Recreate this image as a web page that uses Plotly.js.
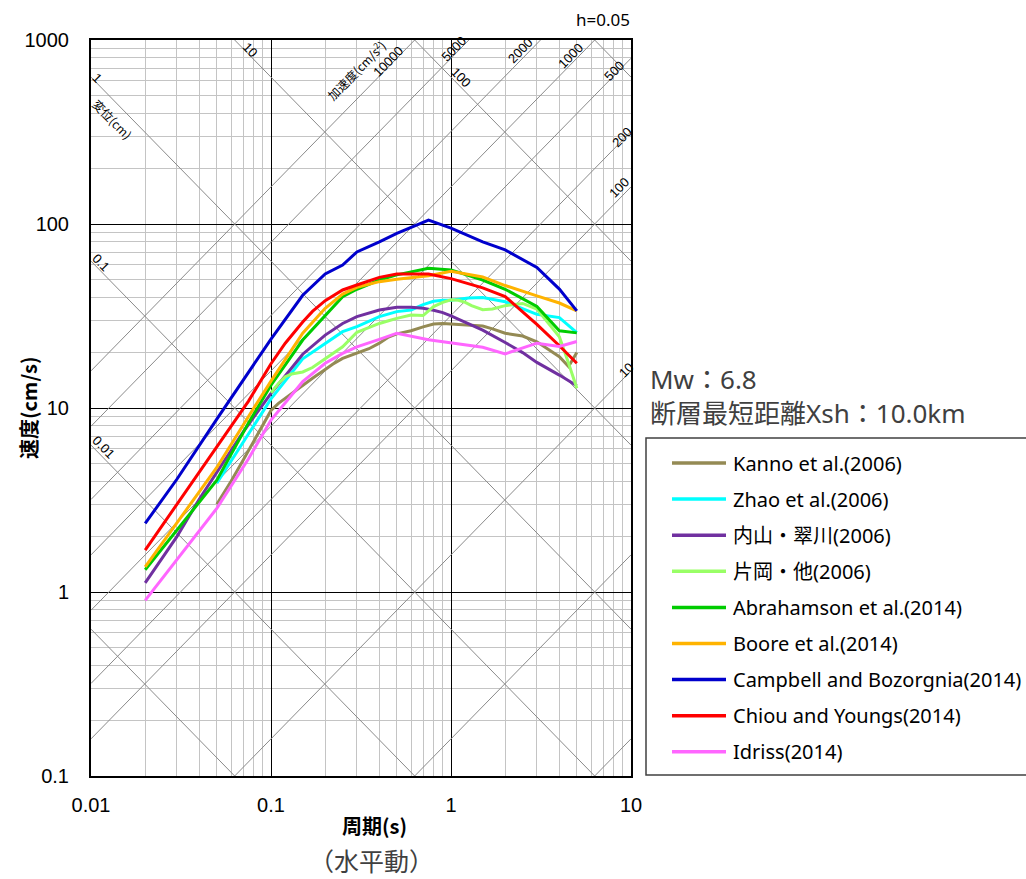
<!DOCTYPE html>
<html><head><meta charset="utf-8">
<script src="https://cdn.plot.ly/plotly-3.0.1.min.js"></script>
<style>html,body{margin:0;padding:0;background:#fff}</style>
</head><body>
<div id="chart" style="width:1026px;height:879px"></div>
<script>
// ---- data (period s, pseudo velocity cm/s) ----
const seriesNames = ["Kanno et al.(2006)","Zhao et al.(2006)","内山・翠川(2006)","片岡・他(2006)","Abrahamson et al.(2014)","Boore et al.(2014)","Campbell and Bozorgnia(2014)","Chiou and Youngs(2014)","Idriss(2014)"];
const seriesColors = ["#948A54","#00FFFF","#7030A0","#99FF66","#00CC00","#FFB300","#0000CC","#FF0000","#FF66FF"];

const kannoT = [0.05,0.06,0.07,0.08,0.09,0.1,0.11,0.12,0.13,0.15,0.17,0.2,0.22,0.25,0.3,0.35,0.4,0.45,0.5,0.6,0.7,0.8,0.9,1,1.1,1.2,1.3,1.5,1.7,2,2.2,2.5,3,3.5,4,4.5,5];
const kannoV = [3.0,4.0,5.2,6.6,8.1,9.7,10.6,11.3,12.0,13.3,14.5,16.2,17.3,18.6,19.8,21.0,22.5,24.3,25.3,26.3,27.6,28.6,28.8,28.6,28.5,28.4,28.2,27.9,26.9,25.5,25.1,24.6,22.9,20.7,19.0,16.8,20.0];

const zhaoT = [0.05,0.1,0.15,0.2,0.25,0.3,0.4,0.5,0.6,0.7,0.8,0.9,1,1.25,1.5,2,2.5,3,4,5];
const zhaoV = [3.9,11.2,18.5,22.5,26.0,27.7,31.4,33.4,34.1,36.5,38.0,38.5,38.5,39.6,39.8,37.8,34.8,32.3,31.0,25.7];

const uchiyamaT = [0.02,0.03,0.04,0.05,0.06,0.07,0.08,0.09,0.1,0.15,0.2,0.25,0.3,0.4,0.5,0.6,0.7,0.8,0.9,1,1.5,2,2.5,3,4,5];
const uchiyamaV = [1.12,2.0,3.2,4.5,5.9,7.4,8.9,10.5,12.0,19.6,24.9,28.8,31.4,34.1,35.3,35.3,34.8,34.0,33.0,31.7,26.5,22.7,20.0,17.7,15.1,13.2];

const kataokaT = [0.1,0.11,0.12,0.13,0.15,0.17,0.2,0.22,0.25,0.3,0.35,0.4,0.45,0.5,0.6,0.7,0.8,0.9,1,1.1,1.2,1.3,1.5,1.7,2,2.2,2.5,3,3.5,4,4.5,5];
const kataokaV = [12.1,13.6,14.8,15.3,15.7,16.6,18.5,19.8,21.5,25.8,27.5,28.8,29.8,30.7,32.0,31.8,35.6,37.5,38.7,38.5,37.5,36.0,34.2,34.5,36.0,36.5,37.0,34.5,28.8,24.4,17.5,12.8];

const abrahamsonT = [0.02,0.03,0.05,0.075,0.1,0.15,0.2,0.25,0.3,0.4,0.5,0.75,1,1.5,2,3,4,5];
const abrahamsonV = [1.32,2.17,4.05,8.3,13.3,23.4,32.0,40.3,44.2,49.6,52.9,57.4,56.3,49.6,44.2,35.6,26.3,25.6];

const booreT = [0.02,0.03,0.04,0.05,0.075,0.1,0.15,0.2,0.25,0.3,0.4,0.5,0.75,1,1.5,2,3,4,5];
const booreV = [1.37,2.38,3.5,4.75,9.0,14.0,25.5,34.8,41.6,45.3,48.6,50.1,52.3,55.3,51.5,46.3,40.7,37.2,33.7];

const campbellT = [0.02,0.03,0.05,0.075,0.1,0.15,0.2,0.25,0.3,0.4,0.5,0.75,1,1.5,2,3,4,5];
const campbellV = [2.36,4.1,8.7,15.6,23.7,41.0,53.5,59.8,70.5,80.0,89.0,105.0,95.0,80.0,72.3,58.0,44.3,33.7];

const chiouT = [0.02,0.03,0.04,0.05,0.075,0.1,0.12,0.15,0.17,0.2,0.25,0.3,0.4,0.5,0.75,1,1.5,2,3,4,5];
const chiouV = [1.69,3.0,4.5,6.1,10.9,17.4,22.5,29.3,33.5,38.3,43.8,46.6,51.3,53.5,53.5,50.5,45.0,40.3,28.5,21.8,17.5];

const idrissT = [0.02,0.03,0.05,0.075,0.1,0.15,0.2,0.25,0.3,0.4,0.5,0.75,1,1.5,2,3,4,5];
const idrissV = [0.90,1.5,2.85,5.3,8.6,13.9,17.5,19.8,21.5,23.6,25.5,23.5,22.6,21.4,19.7,22.5,21.6,23.0];

// tripartite guide lines
const dispValues = [0.001,0.01,0.1,1,10,100,1000];        // cm
const accValues  = [0.1,1,10,100,200,500,1000,2000,5000,10000]; // cm/s2

// tick labels
const xTickVals = [0.01,0.1,1,10];
const xTickText = ["0.01","0.1","1","10"];
const yTickVals = [0.1,1,10,100,1000];
const yTickText = ["0.1","1","10","100","1000"];

// ---- build ----
const TW = 2*Math.PI;
const tEnds = [0.01, 10];
const traces = [];
dispValues.forEach(D => traces.push({x:tEnds, y:tEnds.map(t=>TW*D/t), mode:'lines', line:{color:'#8a8a8a', width:1}, hoverinfo:'skip', showlegend:false}));
accValues.forEach(A => traces.push({x:tEnds, y:tEnds.map(t=>A*t/TW), mode:'lines', line:{color:'#8a8a8a', width:1}, hoverinfo:'skip', showlegend:false}));

const seriesT = [kannoT,zhaoT,uchiyamaT,kataokaT,abrahamsonT,booreT,campbellT,chiouT,idrissT];
const seriesV = [kannoV,zhaoV,uchiyamaV,kataokaV,abrahamsonV,booreV,campbellV,chiouV,idrissV];
seriesNames.forEach((n,i)=>traces.push({x:seriesT[i], y:seriesV[i], name:n, mode:'lines', line:{color:seriesColors[i], width:3}, showlegend:false}));

const minorVals = (lo,hi)=>{const a=[];for(let e=lo;e<hi;e++)for(let k=2;k<=9;k++)a.push(k*Math.pow(10,e));return a;};

const annotations = [];
const lblFont = {family:'Liberation Sans, Arial, sans-serif', size:13, color:'#000'};
const cjkLbl = {family:'Noto Sans CJK JP, sans-serif', size:12, color:'#000'};
function dispLabel(text, D, T, ys, f){ const sv=TW*D/T; annotations.push({x:Math.log10(T), y:Math.log10(sv), xref:'x', yref:'y', xanchor:'center', yanchor:'middle', text:text, showarrow:false, textangle:45.6, yshift:ys, font:f||lblFont}); }
function accLabel(text, A, T, ys, f){ const sv=A*T/TW; annotations.push({x:Math.log10(T), y:Math.log10(sv), xref:'x', yref:'y', xanchor:'center', yanchor:'middle', text:text, showarrow:false, textangle:-45.6, yshift:ys, font:f||lblFont}); }
dispLabel('1', 1, 0.0108, 6);
dispLabel('変位(cm)', 1, 0.0131, -20, cjkLbl);
dispLabel('0.1', 0.1, 0.01137, 9);
dispLabel('0.01', 0.01, 0.0118, 11);
dispLabel('10', 10, 0.0764, 6);
dispLabel('100', 100, 1.14, 10);
accLabel('10000', 10000, 0.447, 6);
accLabel('加速度(cm/s<sup>2</sup>)', 10000, 0.2952, 30, cjkLbl);
accLabel('5000', 5000, 1.039, 7);
accLabel('2000', 2000, 2.427, 10);
accLabel('1000', 1000, 4.63, 9);
accLabel('500', 500, 8.087, 5);
accLabel('200', 200, 8.87, 4);
accLabel('100', 100, 8.58, 12);
accLabel('10', 10, 9.345, 6);

// plot area pixel geometry helpers (paper coordinates)
const L=91, R=631, T0=40, B=776;
const px = x => (x-L)/(R-L);
const py = y => (B-y)/(B-T0);

const cjk = 'Noto Sans CJK JP, Noto Sans, sans-serif';
const mixed = 'Noto Sans, Noto Sans CJK JP, sans-serif';
function note(x, y, text, font, xa, extra){ annotations.push(Object.assign({xref:'paper', yref:'paper', x:px(x), y:py(y), xanchor:xa||'center', yanchor:'middle', text:text, showarrow:false, font:font}, extra||{})); }
note(28, 408, '<b>速度(cm/s)</b>', {family:cjk, size:20, color:'#000'}, 'center', {textangle:-90});
note(374, 826, '<b>周期(s)</b>', {family:cjk, size:20, color:'#000'});
note(371, 860, '（水平動）', {family:cjk, size:25, color:'#404040'});
note(632, 20, 'h=0.05', {family:'Noto Sans, sans-serif', size:17, color:'#000'}, 'right');
note(648, 396, 'Mw：6.8<br>断層最短距離Xsh：10.0km', {family:mixed, size:26, color:'#404040'}, 'left', {align:'left'});

const shapes = [];
shapes.push({type:'rect', xref:'paper', yref:'paper', x0:px(646), x1:px(1040), y0:py(775), y1:py(438), line:{color:'#404040', width:1.5}, fillcolor:'rgba(0,0,0,0)'});
seriesNames.forEach((n,i)=>{
  const yy = 463 + i*36.1;
  shapes.push({type:'line', xref:'paper', yref:'paper', x0:px(672), x1:px(726), y0:py(yy), y1:py(yy), line:{color:seriesColors[i], width:3.5}});
  note(731, yy, n, {family:mixed, size:20, color:'#000'}, 'left');
});

const tickFont = {family:'Liberation Sans, Arial, sans-serif', size:20, color:'#000'};
const layout = {
  width:1026, height:879,
  margin:{l:L, r:1026-R, t:T0, b:879-B, autoexpand:false},
  paper_bgcolor:'#fff', plot_bgcolor:'#fff',
  showlegend:false,
  xaxis:{type:'log', range:[-2,1], tickmode:'array', tickvals:xTickVals, ticktext:xTickText,
    showgrid:true, gridcolor:'#000', gridwidth:1, showline:true, mirror:true, linecolor:'#000', linewidth:2,
    ticks:'outside', ticklen:10, tickcolor:'rgba(0,0,0,0)', tickfont:tickFont,
    minor:{tickmode:'array', tickvals:minorVals(-2,1), showgrid:true, gridcolor:'#c4c4c4', gridwidth:1, ticks:''}, zeroline:false},
  yaxis:{type:'log', range:[-1,3], tickmode:'array', tickvals:yTickVals, ticktext:yTickText,
    showgrid:true, gridcolor:'#000', gridwidth:1, showline:true, mirror:true, linecolor:'#000', linewidth:2,
    ticks:'outside', ticklen:16, tickcolor:'rgba(0,0,0,0)', tickfont:tickFont,
    minor:{tickmode:'array', tickvals:minorVals(-1,3), showgrid:true, gridcolor:'#c4c4c4', gridwidth:1, ticks:''}, zeroline:false},
  annotations:annotations, shapes:shapes
};
Plotly.newPlot('chart', traces, layout, {staticPlot:true, displayModeBar:false});
</script>
</body></html>
